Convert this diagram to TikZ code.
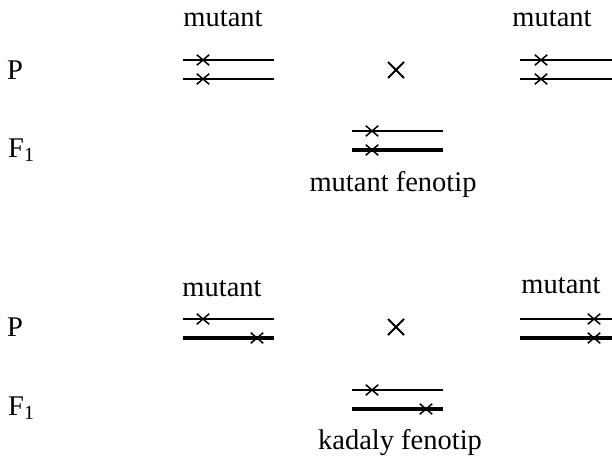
\documentclass[tikz,border=0pt]{standalone}
\usepackage{fontspec}
\setmainfont{Liberation Serif}
\usetikzlibrary{shapes.misc}
\begin{document}
\begin{tikzpicture}[x=1pt,y=-1pt,
  lbl/.style={font=\fontsize{28.5}{32}\selectfont, inner sep=0pt},
  thinl/.style={line width=1.3pt},
  thickl/.style={line width=3.6pt},
  mk/.style={cross out, draw, line width=1.5pt, minimum width=11pt, minimum height=9pt, inner sep=0pt},
  bigx/.style={cross out, draw, line width=2pt, minimum width=14pt, minimum height=14pt, inner sep=0pt}]
\useasboundingbox (0,0) rectangle (612,458);
% ---------- top block ----------
\node[lbl] (m1) at (223,19) {mutant};
\node[lbl] (m2) at (552,19) {mutant};
\node[lbl] (p1) at (15,70) {P};
\node[lbl, anchor=west] (f1) at (8,150) {F\textsubscript{1}};
\coordinate (a1) at (183,60); \coordinate (a2) at (274,60);
\coordinate (b1) at (183,79); \coordinate (b2) at (274,79);
\draw[thinl] (a1) -- (a2);
\draw[thinl] (b1) -- (b2);
\node[mk] (ca) at (203,60) {}; \node[mk] (cb) at (203,79) {};
\coordinate (c1) at (520,60); \coordinate (c2) at (612,60);
\coordinate (d1) at (520,79); \coordinate (d2) at (612,79);
\draw[thinl] (c1) -- (c2);
\draw[thinl] (d1) -- (d2);
\node[mk] (cc) at (541,60) {}; \node[mk] (cd) at (541,79) {};
\node[bigx] (x1) at (396,70) {};
\coordinate (e1) at (352,131); \coordinate (e2) at (443,131);
\coordinate (g1) at (352,150); \coordinate (g2) at (443,150);
\draw[thinl] (e1) -- (e2);
\draw[thickl] (g1) -- (g2);
\node[mk] (ce) at (372,131) {}; \node[mk] (cg) at (372,150) {};
\node[lbl] (t1) at (393,184) {mutant fenotip};
% ---------- bottom block ----------
\node[lbl] (m3) at (222,289) {mutant};
\node[lbl] (m4) at (561,286) {mutant};
\node[lbl] (p2) at (15,327) {P};
\node[lbl, anchor=west] (f2) at (8,408) {F\textsubscript{1}};
\coordinate (h1) at (183,319); \coordinate (h2) at (274,319);
\coordinate (k1) at (183,338); \coordinate (k2) at (274,338);
\draw[thinl] (h1) -- (h2);
\draw[thickl] (k1) -- (k2);
\node[mk] (ch) at (203,319) {}; \node[mk] (ck) at (257,338) {};
\coordinate (l1) at (520,319); \coordinate (l2) at (612,319);
\coordinate (n1) at (520,338); \coordinate (n2) at (612,338);
\draw[thinl] (l1) -- (l2);
\draw[thickl] (n1) -- (n2);
\node[mk] (cl) at (594,319) {}; \node[mk] (cn) at (594,338) {};
\node[bigx] (x2) at (396,327) {};
\coordinate (q1) at (352,390); \coordinate (q2) at (443,390);
\coordinate (r1) at (352,409); \coordinate (r2) at (443,409);
\draw[thinl] (q1) -- (q2);
\draw[thickl] (r1) -- (r2);
\node[mk] (cq) at (372,390) {}; \node[mk] (cr) at (426,409) {};
\node[lbl] (t2) at (400,443) {kadaly fenotip};
\end{tikzpicture}
\end{document}
